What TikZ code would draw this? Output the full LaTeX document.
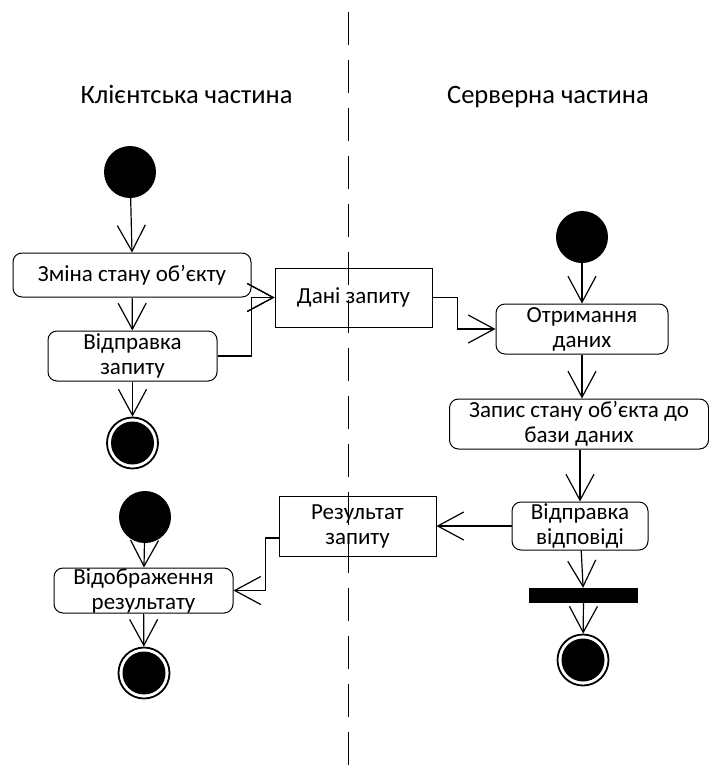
\documentclass[tikz,border=0pt]{standalone}
\usepackage{fontspec}
\setmainfont{Carlito}
\usetikzlibrary{arrows.meta}

\tikzset{
  act/.style={draw, rounded corners=9pt, line width=1pt, align=center, inner sep=0pt, font=\fontsize{23}{25}\selectfont},
  obj/.style={draw, line width=1pt, align=center, inner sep=0pt, font=\fontsize{23}{25}\selectfont},
  initnode/.style={circle, fill=black, minimum size=52pt, inner sep=0pt},
  finalnode/.style={circle, draw, line width=1.8pt, minimum size=51pt, inner sep=0pt,
    path picture={\fill (path picture bounding box.center) circle (21.5pt);}},
  barnode/.style={fill=black, minimum width=109pt, minimum height=15pt, inner sep=0pt},
  flow/.style={line width=1.2pt, -{Straight Barb[length=26pt, width=28pt]}},
  lane/.style={line width=1pt, dash pattern=on 33pt off 15pt},
  title/.style={font=\fontsize{26.5}{30}\selectfont, anchor=base}
}

\begin{document}
\begin{tikzpicture}[x=1pt, y=-1pt]
\useasboundingbox (0,0) rectangle (709,769);

        % Lane border
        \coordinate (L1) at (348,12);
        \coordinate (L2) at (348,769);
        \draw[lane] (L1) -- (L2);

        % Lane titles
        \node[title] (T1) at (186.5,103) {Клієнтська частина};
        \node[title] (T2) at (548,103) {Серверна частина};

        % Client part, first flow
        \node[initnode] (S1) at (130,172) {};
        \node[act, minimum width=238pt, minimum height=44pt] (A1) at (132,275) {Зміна стану об’єкту};
        \node[act, minimum width=169pt, minimum height=50pt] (A2) at (132.5,356) {Відправка\\запиту};
        \node[finalnode] (F1) at (132.5,443) {};

        % Objects between the lanes
        \node[obj, minimum width=157pt, minimum height=59pt] (O1) at (353.5,297.5) {Дані запиту};
        \node[obj, minimum width=157pt, minimum height=60pt] (O2) at (357.5,526) {Результат\\запиту};

        % Server part
        \node[initnode] (S3) at (582,237) {};
        \node[act, minimum width=172pt, minimum height=50pt] (A3) at (582,329) {Отримання\\даних};
        \node[act, minimum width=259pt, minimum height=50pt] (A4) at (579,424) {Запис стану об’єкта до\\бази даних};
        \node[act, minimum width=136pt, minimum height=48pt] (A5) at (580,526) {Відправка\\відповіді};
        \node[barnode] (B1) at (583.5,595.5) {};
        \node[finalnode] (F3) at (583,660) {};

        % Client part, second flow
        \node[initnode] (S2) at (145,517) {};
        \node[act, minimum width=179pt, minimum height=45pt] (A6) at (143.5,590.5) {Відображення\\результату};
        \node[finalnode] (F2) at (144,673) {};

        % Flows on the client side
        \draw[flow] (S1) -- (A1.north);
        \draw[flow] (A1) -- (A2);
        \draw[flow] (A2) -- (F1);
        \draw[flow] (A1.south east) -- (O1.west);
        \draw[flow] (A2.east) -| (A1.south east) -- (O1.west);

        % Flows on the server side
        \draw[flow] (O1.east) -- ++(25,0) |- (A3.west);
        \draw[flow] (S3) -- (A3);
        \draw[flow] (A3.south) -- (A4.north -| A3.south);
        \draw[flow] (A4.south -| A5.north) -- (A5.north);
        \draw[flow] (A5.west) -- (O2.east);
        \draw[flow] (A5) -- (B1);
        \draw[flow] (B1) -- (F3);

        % Result back to the client
        \draw[flow] ([yshift=-12pt]O2.west) -- ++(-13,0) |- (A6.east);
        \draw[flow] (S2) -- (A6);
        \draw[flow] (A6) -- (F2);
\end{tikzpicture}
\end{document}
